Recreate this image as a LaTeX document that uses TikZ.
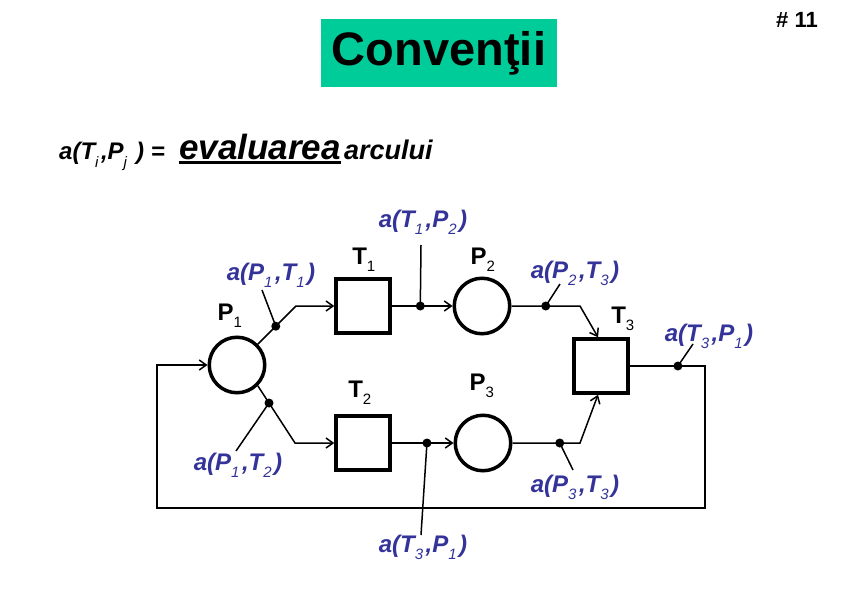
\documentclass[tikz,border=0pt]{standalone}
\usepackage{fontspec}
\setmainfont{Liberation Sans}
\usetikzlibrary{arrows.meta,positioning}
\definecolor{labelblue}{RGB}{51,51,153}
\definecolor{titleteal}{RGB}{0,204,153}
\newcommand{\idx}[1]{\raisebox{-0.3em}{\fontsize{15}{15}\selectfont\mdseries #1}\kern2.5pt\relax}
\newcommand{\thickul}[1]{\setbox0\hbox{#1}\rlap{\rule[-4pt]{\wd0}{2.5pt}}\box0}

\begin{document}
\begin{tikzpicture}[x=1pt, y=-1pt, >={Straight Barb[length=7pt,width=10pt]},
      place/.style={draw, circle, line width=3.5pt, minimum size=55.5pt, inner sep=0pt},
      trans/.style={draw, line width=3.5pt, minimum size=54pt, inner sep=0pt},
      pname/.style={font=\bfseries\fontsize{24}{24}\selectfont, inner sep=0pt},
      alabel/.style={text=labelblue, inner sep=0pt,
                     font=\bfseries\itshape\fontsize{24}{24}\selectfont},
      hfont/.style={inner sep=0pt, anchor=base west, font=\bfseries\itshape\fontsize{#1}{#1}\selectfont},
      dot/.style={circle, fill, inner sep=0pt, minimum size=9pt},
      arr/.style={->, line width=1.5pt},
      ptr/.style={line width=1.5pt}
    ]
    \useasboundingbox (0,0) rectangle (842,596);

    % heading
    \node[fill=titleteal, minimum width=236pt, minimum height=68pt, inner sep=0pt,
          font=\bfseries\fontsize{47}{47}\selectfont] (title) at (439,53) {Convenţii};
    \node[font=\bfseries\fontsize{22}{22}\selectfont, inner sep=0pt] (num) at (797,20) {\# 11};

    \node[hfont=24] (hdef) at (59,160) {a(T\idx{i},P\idx{j} ) =};
    \node[hfont=35] (heval) at ([xshift=14pt]hdef.base east) {\thickul{evaluarea}};
    \node[hfont=27] (harc) at ([xshift=3pt]heval.base east) {arcului};

    % places and transitions
    \node[place] (P1) at (237,365) {};
    \node[trans] (T1) at (363,306) {};
    \node[place] (P2) at (482,306) {};
    \node[trans] (T3) at (601,366) {};
    \node[trans] (T2) at (363,443) {};
    \node[place] (P3) at (483,443) {};

    \node[pname] (nP1) at (231,316) {P\idx{1}};
    \node[pname] (nT1) at (365,260) {T\idx{1}};
    \node[pname] (nP2) at (484,260) {P\idx{2}};
    \node[pname] (nT3) at (624,319) {T\idx{3}};
    \node[pname] (nT2) at (361,393) {T\idx{2}};
    \node[pname] (nP3) at (483,386) {P\idx{3}};

    % bends of the arcs
    \coordinate (b11) at (296,306);
    \coordinate (b13) at (295,443);
    \coordinate (b23) at (580,306);
    \coordinate (b33) at (580,443);
    \coordinate (c1) at (705,366);
    \coordinate (c2) at (705,508);
    \coordinate (c3) at (157,508);
    \coordinate (c4) at (157,365);

    % arcs
    \draw[arr] (P1.45) -- coordinate[pos=0.47] (d11) (b11) -- (T1);
    \draw[arr] (P1.-45) -- coordinate[pos=0.30] (d13) (b13) -- (T2);
    \draw[arr] (T1) -- coordinate[pos=0.47] (d12) (P2);
    \draw[arr] (T2) -- coordinate[pos=0.57] (d22) (P3);
    \draw[arr] (P2) -- coordinate[pos=0.50] (d23) (b23) -- ([xshift=-3pt]T3.north);
    \draw[arr] (P3) -- coordinate[pos=0.70] (d33) (b33) -- ([xshift=-3pt]T3.south);
    \draw[arr] (T3) -- coordinate[pos=0.64] (d31) (c1) -- (c2) -- (c3) -- (c4) -- (P1);

    \foreach \d in {d11,d13,d12,d22,d23,d33,d31}
      \node[dot] at (\d) {};

    % arc weights
    \node[alabel] (wP1T1) at (271,275) {a(P\idx{1},T\idx{1})};
    \node[alabel] (wT1P2) at (423,222) {a(T\idx{1},P\idx{2})};
    \node[alabel] (wP2T3) at (575,273) {a(P\idx{2},T\idx{3})};
    \node[alabel] (wT3P1) at (709,336) {a(T\idx{3},P\idx{1})};
    \node[alabel] (wP1T2) at (238,465) {a(P\idx{1},T\idx{2})};
    \node[alabel] (wT3P1b) at (423,547) {a(T\idx{3},P\idx{1})};
    \node[alabel] (wP3T3) at (575,487) {a(P\idx{3},T\idx{3})};

    \coordinate (q11) at (262,290);
    \coordinate (q12) at (421,245);
    \coordinate (q23) at (560,284);
    \coordinate (q31) at (693,344);
    \coordinate (q13) at (236,451);
    \coordinate (q22) at (421,535);
    \coordinate (q33) at (573,470);

    \draw[ptr] (d11) -- (q11);
    \draw[ptr] (d12) -- (q12);
    \draw[ptr] (d23) -- (q23);
    \draw[ptr] (d31) -- (q31);
    \draw[ptr] (d13) -- (q13);
    \draw[ptr] (d22) -- (q22);
    \draw[ptr] (d33) -- (q33);
  \end{tikzpicture}
\end{document}
